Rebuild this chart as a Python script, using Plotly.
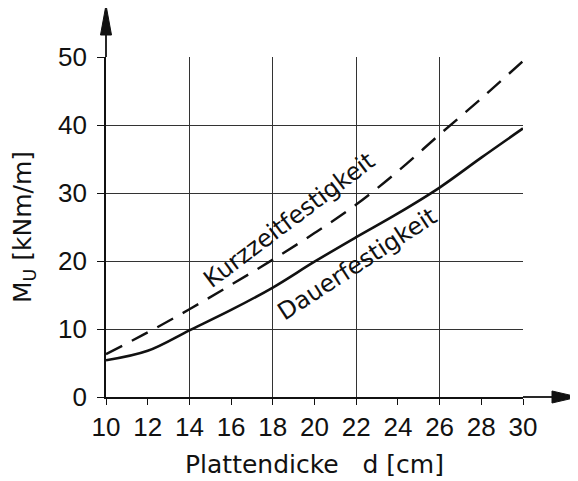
import plotly.graph_objects as go

# ---- data ----
d = [10, 12, 14, 16, 18, 20, 22, 24, 26, 28, 30]               # Plattendicke d [cm]
kurzzeit = [6.3, 9.5, 12.9, 16.5, 20.2, 24.1, 28.3, 33.2, 38.6, 43.9, 49.4]  # Kurzzeitfestigkeit
dauer = [5.4, 6.8, 9.8, 12.8, 16.1, 19.9, 23.5, 27.0, 30.8, 35.2, 39.5]      # Dauerfestigkeit

x_ticks = [10, 12, 14, 16, 18, 20, 22, 24, 26, 28, 30]
x_grid = [14, 18, 22, 26, 30]
y_ticks = [0, 10, 20, 30, 40, 50]

INK = "#111111"
GRID = "#333333"
NUM_FONT = "Liberation Sans, Arial, sans-serif"
TXT_FONT = "DejaVu Sans, Liberation Sans, sans-serif"

fig = go.Figure()

fig.add_trace(go.Scatter(
    x=d, y=dauer, mode="lines",
    line=dict(color=INK, width=2.6, shape="spline"),
    cliponaxis=False, showlegend=False, hoverinfo="skip"))

fig.add_trace(go.Scatter(
    x=d, y=kurzzeit, mode="lines",
    line=dict(color=INK, width=2.4, dash="18px,11px", shape="spline"),
    cliponaxis=False, showlegend=False, hoverinfo="skip"))

# invisible trace that carries the overlay axis used for the vertical grid
fig.add_trace(go.Scatter(
    x=[x_ticks[0], x_ticks[-1]], y=[0, 0], xaxis="x2", mode="lines",
    line=dict(width=0, color="rgba(0,0,0,0)"), showlegend=False, hoverinfo="skip"))

fig.update_layout(
    width=578, height=481,
    margin=dict(l=98, r=63, t=49, b=92),
    paper_bgcolor="white", plot_bgcolor="white",
    xaxis=dict(
        range=[10, 30], tickmode="array", tickvals=x_ticks,
        ticktext=[str(v) for v in x_ticks], automargin=False,
        showgrid=False, zeroline=False,
        showline=True, linecolor=INK, linewidth=1.8,
        ticks="outside", ticklen=6, tickwidth=1.4, tickcolor=INK,
        ticklabelstandoff=0,
        tickfont=dict(family=NUM_FONT, size=26, color=INK),
        title=dict(text="Plattendicke\u00a0\u00a0\u00a0d [cm]",
                   font=dict(family=TXT_FONT, size=25, color=INK), standoff=14),
    ),
    xaxis2=dict(
        range=[10, 30], overlaying="x", side="bottom", automargin=False,
        tickmode="array", tickvals=x_grid, showticklabels=False, ticks="",
        showgrid=True, gridcolor=GRID, gridwidth=1.2, zeroline=False, showline=False,
    ),
    yaxis=dict(
        range=[0, 50], tickmode="array", tickvals=y_ticks,
        ticktext=[str(v) for v in y_ticks], automargin=False,
        showgrid=True, gridcolor=GRID, gridwidth=1.2, zeroline=False,
        showline=True, linecolor=INK, linewidth=1.8,
        ticks="outside", ticklen=7, tickwidth=1.4, tickcolor=INK,
        ticklabelstandoff=5,
        tickfont=dict(family=NUM_FONT, size=26, color=INK),
        title=dict(text="M<sub>U</sub> [kNm/m]",
                   font=dict(family=TXT_FONT, size=25, color=INK), standoff=23),
    ),
    annotations=[
        dict(x=18.8, y=26.0, xref="x", yref="y", text="Kurzzeitfestigkeit",
             showarrow=False, textangle=-37,
             font=dict(family=TXT_FONT, size=24, color=INK)),
        dict(x=22.05, y=19.6, xref="x", yref="y", text="Dauerfestigkeit",
             showarrow=False, textangle=-33,
             font=dict(family=TXT_FONT, size=24, color=INK)),
    ],
    shapes=[
        # y-axis extension with arrowhead (paper refs: not clipped to the plot area)
        dict(type="path", xref="paper", yref="paper", xsizemode="pixel", ysizemode="pixel",
             xanchor=0, yanchor=1, path="M0,0 L0,26",
             line=dict(color=INK, width=1.8)),
        dict(type="path", xref="paper", yref="paper", xsizemode="pixel", ysizemode="pixel",
             xanchor=0, yanchor=1, path="M-5.5,22 L5.5,22 L0,52 Z",
             fillcolor=INK, line=dict(color=INK, width=1)),
        # x-axis extension with arrowhead
        dict(type="path", xref="paper", yref="paper", xsizemode="pixel", ysizemode="pixel",
             xanchor=1, yanchor=0, path="M0,0 L32,0",
             line=dict(color=INK, width=1.8)),
        dict(type="path", xref="paper", yref="paper", xsizemode="pixel", ysizemode="pixel",
             xanchor=1, yanchor=0, path="M29,-6 L29,6 L55,0 Z",
             fillcolor=INK, line=dict(color=INK, width=1)),
    ],
)

fig.write_html("out.html")
